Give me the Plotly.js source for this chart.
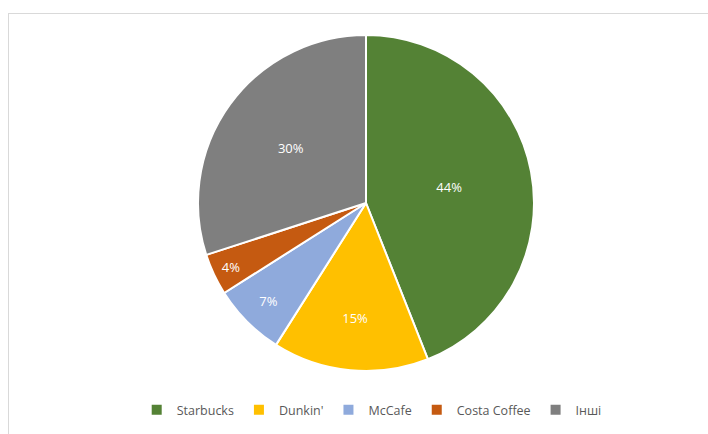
<!DOCTYPE html>
<html>
<head>
<meta charset="utf-8">
<script src="https://cdn.plot.ly/plotly-3.0.1.min.js"></script>
<style>
html,body{margin:0;padding:0;background:#fff;}
#wrap{position:relative;width:708px;height:434px;}
#chart{width:708px;height:434px;}
#frame{position:absolute;left:8px;top:13px;width:700px;height:421px;border-left:1px solid #d9d9d9;border-top:1px solid #d9d9d9;box-sizing:border-box;pointer-events:none;}
</style>
</head>
<body>
<div id="wrap"><div id="chart"></div><div id="frame"></div></div>
<script>
const categories = ["Starbucks", "Dunkin'", "McCafe", "Costa Coffee", "Інші"];
const shares = [44, 15, 7, 4, 30];
const colors = ["#548235", "#FFC000", "#8FAADC", "#C55A11", "#7F7F7F"];

const trace = {
  type: "pie",
  labels: categories,
  values: shares,
  sort: false,
  direction: "clockwise",
  rotation: 0,
  marker: {colors: colors, line: {color: "#ffffff", width: 2}},
  textinfo: "percent",
  texttemplate: "%{percent:.0%}",
  textposition: "inside",
  insidetextorientation: "horizontal",
  textfont: {family: "Open Sans, sans-serif", size: 13, color: "#ffffff"},
  hoverinfo: "none"
};

const layout = {
  width: 708,
  height: 434,
  margin: {l: 24, r: 0, t: 35, b: 63},
  paper_bgcolor: "#ffffff",
  plot_bgcolor: "#ffffff",
  showlegend: true,
  legend: {
    orientation: "h",
    xref: "container", yref: "container",
    x: 0.525, xanchor: "center",
    y: 0.055, yanchor: "middle",
    font: {family: "Open Sans, sans-serif", size: 12.5, color: "#595959"},
    itemwidth: 30,
    traceorder: "normal"
  }
};

Plotly.newPlot("chart", [trace], layout, {displayModeBar: false, staticPlot: true});
</script>
</body>
</html>
